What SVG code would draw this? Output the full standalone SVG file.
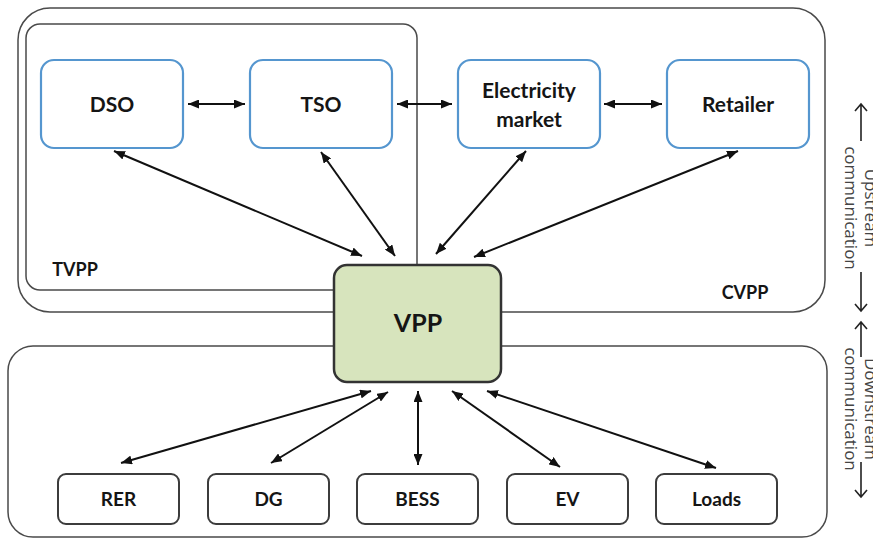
<svg xmlns="http://www.w3.org/2000/svg" width="873" height="540" viewBox="0 0 873 540">
  <defs>
    <marker id="ah" viewBox="0 0 11 9" refX="11" refY="4.5" markerWidth="11" markerHeight="9" markerUnits="userSpaceOnUse" orient="auto-start-reverse">
      <path d="M0,0 L11,4.5 L0,9 z" fill="#111"/>
    </marker>
  </defs>
  <style>
    .frame{fill:none;stroke:#4a4a4a;stroke-width:1.5}
    .blue{fill:#fff;stroke:#5596cf;stroke-width:2.2}
    .leaf{fill:#fff;stroke:#3c3c3c;stroke-width:2}
    .vpp{fill:#d7e4bd;stroke:#333;stroke-width:2.5}
    .lbl{font-family:Lato,"Open Sans",sans-serif;font-weight:bold;fill:#151515;text-anchor:middle}
    .conn line{stroke:#111;stroke-width:2;marker-start:url(#ah);marker-end:url(#ah)}
    .side{font-family:"Open Sans",sans-serif;font-size:17px;fill:#444;text-anchor:middle}
    .sarrow{fill:none;stroke:#222;stroke-width:1.6}
  </style>
  <rect width="873" height="540" fill="#fff"/>

  <!-- grouping frames -->
  <g id="cvpp">
    <rect class="frame" x="18" y="8" width="807" height="304" rx="32"/>
    <text class="lbl" x="745" y="299" font-size="18">CVPP</text>
  </g>
  <g id="tvpp">
    <rect class="frame" x="26" y="24" width="391" height="266" rx="14"/>
    <text class="lbl" x="75" y="276" font-size="18">TVPP</text>
  </g>
  <g id="resources">
    <rect class="frame" x="8" y="346" width="819" height="191" rx="25"/>
  </g>

  <!-- connectors -->
  <g id="connectors" class="conn">
    <line x1="188" y1="104" x2="245" y2="104"/>
    <line x1="397" y1="104" x2="452" y2="104"/>
    <line x1="604" y1="104" x2="662" y2="104"/>
    <line x1="114" y1="151" x2="362" y2="256"/>
    <line x1="321" y1="152" x2="395" y2="256"/>
    <line x1="526" y1="151" x2="436" y2="254"/>
    <line x1="738" y1="151" x2="474" y2="257"/>
    <line x1="371" y1="391" x2="121" y2="463"/>
    <line x1="388" y1="392" x2="271" y2="463"/>
    <line x1="418" y1="391" x2="418" y2="465"/>
    <line x1="452" y1="391" x2="560" y2="467"/>
    <line x1="487" y1="391" x2="716" y2="468"/>
  </g>

  <!-- upper nodes -->
  <g id="dso">
    <rect class="blue" x="41" y="60" width="142" height="88" rx="13"/>
    <text class="lbl" x="112" y="112" font-size="21">DSO</text>
  </g>
  <g id="tso">
    <rect class="blue" x="250" y="60" width="142" height="88" rx="13"/>
    <text class="lbl" x="321" y="112" font-size="21">TSO</text>
  </g>
  <g id="market">
    <rect class="blue" x="458" y="60" width="142" height="88" rx="13"/>
    <text class="lbl" x="529" y="98" font-size="21">Electricity</text>
    <text class="lbl" x="529" y="127" font-size="21">market</text>
  </g>
  <g id="retailer">
    <rect class="blue" x="667" y="60" width="142" height="88" rx="13"/>
    <text class="lbl" x="738" y="112" font-size="21">Retailer</text>
  </g>

  <!-- central VPP -->
  <g id="vpp">
    <rect class="vpp" x="334" y="265" width="167" height="117" rx="13"/>
    <text class="lbl" x="418" y="332" font-size="25">VPP</text>
  </g>

  <!-- lower nodes -->
  <g id="rer">
    <rect class="leaf" x="58" y="474" width="121" height="50" rx="8"/>
    <text class="lbl" x="118.5" y="506" font-size="19">RER</text>
  </g>
  <g id="dg">
    <rect class="leaf" x="208" y="474" width="121" height="50" rx="8"/>
    <text class="lbl" x="268.5" y="506" font-size="19">DG</text>
  </g>
  <g id="bess">
    <rect class="leaf" x="357" y="474" width="121" height="50" rx="8"/>
    <text class="lbl" x="417.5" y="506" font-size="19">BESS</text>
  </g>
  <g id="ev">
    <rect class="leaf" x="507" y="474" width="121" height="50" rx="8"/>
    <text class="lbl" x="567.5" y="506" font-size="19">EV</text>
  </g>
  <g id="loads">
    <rect class="leaf" x="656" y="474" width="121" height="50" rx="8"/>
    <text class="lbl" x="716.5" y="506" font-size="19">Loads</text>
  </g>

  <!-- side annotations -->
  <g id="upstream">
    <path class="sarrow" d="M861,141 V104 M855,111 L861,104 L867,111"/>
    <path class="sarrow" d="M861,272 V311 M855,304 L861,311 L867,304"/>
    <g transform="translate(865,208) rotate(90)">
      <text class="side" x="0" y="0">Upstream</text>
    </g>
    <g transform="translate(845,208) rotate(90)">
      <text class="side" x="0" y="0">communication</text>
    </g>
  </g>
  <g id="downstream">
    <path class="sarrow" d="M861,357 V322 M855,329 L861,322 L867,329"/>
    <path class="sarrow" d="M861,462 V497 M855,490 L861,497 L867,490"/>
    <g transform="translate(865,409) rotate(90)">
      <text class="side" x="0" y="0">Downstream</text>
    </g>
    <g transform="translate(845,409) rotate(90)">
      <text class="side" x="0" y="0">communication</text>
    </g>
  </g>
</svg>
